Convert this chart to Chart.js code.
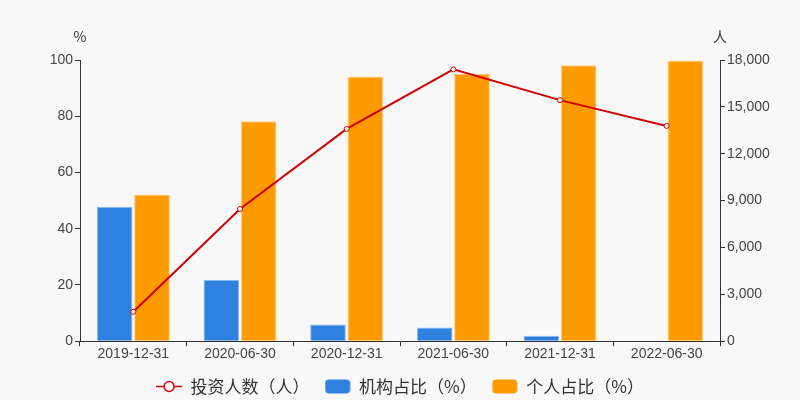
<!DOCTYPE html>
<html><head><meta charset="utf-8">
<script src="https://cdn.jsdelivr.net/npm/chart.js@4"></script>
<style>html,body{margin:0;padding:0;background:#f8f8f8;}#wrap{width:800px;height:400px;}</style>
</head><body><div id="wrap"><canvas id="c" width="800" height="400"></canvas></div>
<script>
const categories = ['2019-12-31','2020-06-30','2020-12-31','2021-06-30','2021-12-31','2022-06-30'];
const investors = [1885, 8460, 13590, 17400, 15430, 13780];
const instPct = [47.8, 21.8, 5.9, 4.9, 1.9, 0.2];
const indivPct = [52.2, 78.2, 94.1, 95.1, 98.1, 99.8];
const leftTicks = [0, 20, 40, 60, 80, 100];
const rightTicks = [0, 3000, 6000, 9000, 12000, 15000, 18000];

const FONT = '"Noto Sans CJK SC", "Noto Sans", sans-serif';
const TICKFONT = '"Liberation Sans", Arial, sans-serif';
const BLUE = '#2e81de', ORANGE = '#ff9a00', RED = '#d20000';

function makeIcon(kind, color){
  const cv = document.createElement('canvas');
  cv.width = 26; cv.height = 15;
  const g = cv.getContext('2d');
  if(kind === 'line'){
    g.strokeStyle = RED; g.lineWidth = 1.5;
    g.beginPath(); g.moveTo(0,7.5); g.lineTo(26,7.5); g.stroke();
    g.fillStyle = '#fff'; g.beginPath(); g.arc(13,7.5,5,0,Math.PI*2); g.fill(); g.stroke();
  } else {
    g.fillStyle = color;
    g.beginPath();
    if(g.roundRect) g.roundRect(0.5,0.5,25,14,4); else g.rect(0,0,26,15);
    g.fill();
  }
  return cv;
}
const icons = [makeIcon('line'), makeIcon('rect', BLUE), makeIcon('rect', ORANGE)];

const bgPlugin = {
  id:'bg',
  beforeLayout(chart){
    const lg = chart.legend;
    if(lg && !lg._patched){
      const orig = lg.fit;
      lg.fit = function(){ orig.call(this); this.height = 37; };
      lg._patched = true;
    }
  },
  beforeDraw(chart){
    const {ctx} = chart; ctx.save(); ctx.fillStyle = '#f8f8f8';
    ctx.fillRect(0,0,chart.width,chart.height); ctx.restore();
  },
  afterDraw(chart){
    const {ctx, chartArea} = chart;
    ctx.save(); ctx.fillStyle = '#333'; ctx.font = '14px ' + FONT;
    ctx.textAlign = 'center'; ctx.textBaseline = 'middle';
    ctx.fillText('%', chartArea.left, 37);
    ctx.fillText('人', chartArea.right, 37);
    ctx.restore();
  }
};

new Chart(document.getElementById('c'), {
  data: {
    labels: categories,
    datasets: [
      {type:'line', label:'投资人数（人）', data: investors, yAxisID:'y1', order:0,
       borderColor: RED, borderWidth: 2, pointRadius: 2.5, pointBorderWidth: 1,
       pointBackgroundColor:'#fff', pointBorderColor: RED, tension:0, fill:false},
      {type:'bar', label:'机构占比（%）', data: instPct, yAxisID:'y', order:1,
       backgroundColor: BLUE, borderColor:'#8fbcf0', borderWidth:1,
       categoryPercentage:0.7, barPercentage:0.955},
      {type:'bar', label:'个人占比（%）', data: indivPct, yAxisID:'y', order:1,
       backgroundColor: ORANGE, borderColor:'#ffcc80', borderWidth:1,
       categoryPercentage:0.7, barPercentage:0.955}
    ]
  },
  options: {
    responsive:false, animation:false,
    layout:{padding:{top:60, left:0, right:0, bottom:0}},
    plugins:{
      tooltip:{enabled:false},
      legend:{
        position:'bottom',
        labels:{
          font:{size:17, family:FONT}, color:'#333', usePointStyle:true, pointStyleWidth:26,
          boxHeight:15, padding:15,
          generateLabels(chart){
            return chart.data.datasets.map((d,i)=>({
              text:d.label, pointStyle: icons[i], datasetIndex:i, hidden:false,
              fontColor:'#333', lineWidth:0, strokeStyle:'transparent', fillStyle:'transparent'
            }));
          }
        }
      }
    },
    scales:{
      x:{
        grid:{display:true, drawOnChartArea:false, drawTicks:true, tickLength:5, color:'#333', offset:true},
        border:{display:true, color:'#333'},
        ticks:{font:{size:14, family:TICKFONT}, color:'#444', maxRotation:0, padding:0}
      },
      y:{
        position:'left', min:0, max:100,
        afterBuildTicks(s){ s.ticks = leftTicks.map(v=>({value:v})); },
        afterFit(s){ s.width = 80; },
        grid:{display:true, drawOnChartArea:false, drawTicks:true, tickLength:5, color:'#333'},
        border:{display:true, color:'#333'},
        ticks:{font:{size:14, family:TICKFONT}, color:'#444', padding:2}
      },
      y1:{
        position:'right', min:0, max:18000,
        afterBuildTicks(s){ s.ticks = rightTicks.map(v=>({value:v})); },
        afterFit(s){ s.width = 80; },
        grid:{display:true, drawOnChartArea:false, drawTicks:true, tickLength:5, color:'#333'},
        border:{display:true, color:'#333'},
        ticks:{font:{size:14, family:TICKFONT}, color:'#444', padding:2,
          callback:v=>v.toLocaleString('en-US')}
      }
    }
  },
  plugins:[bgPlugin]
});
</script></body></html>
